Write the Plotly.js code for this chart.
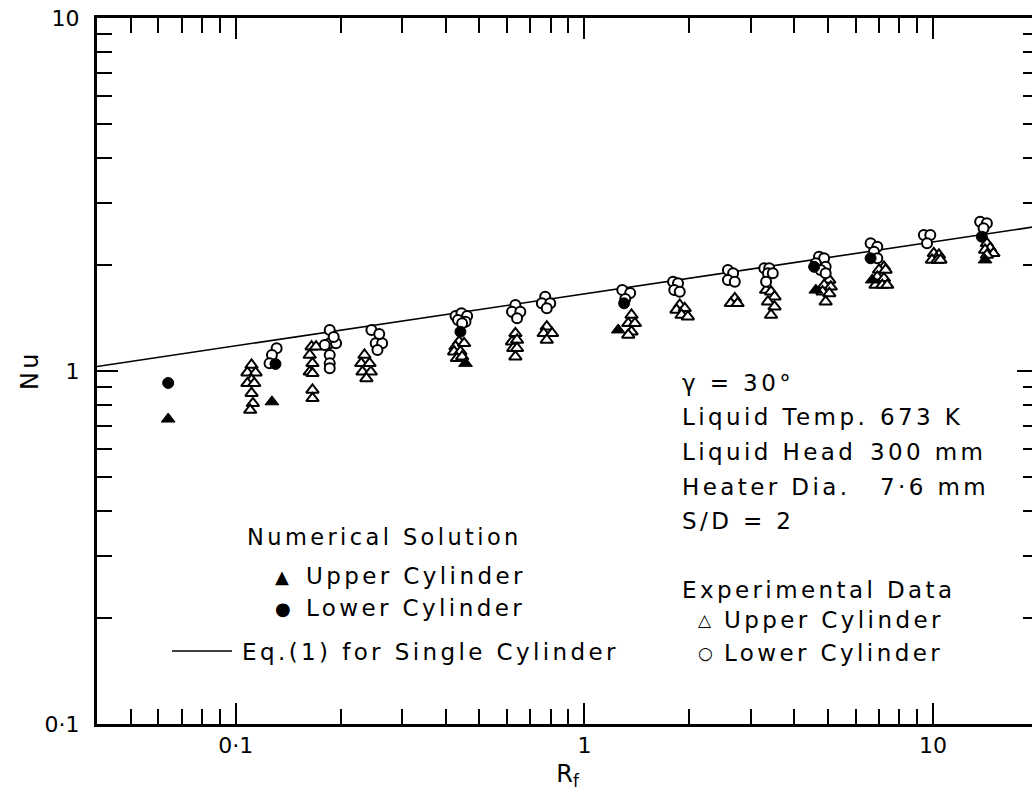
<!DOCTYPE html>
<html><head><meta charset="utf-8">
<script src="https://cdn.plot.ly/plotly-3.0.1.min.js"></script>
<style>
html,body{margin:0;padding:0;overflow:hidden;background:#fff}
#chart{width:1040px;height:797px}
.annotation-text{letter-spacing:3.4px}
</style></head><body><div id="chart"></div><script>
// ---------- data ----------
const expUpperX = [0.111,0.108,0.114,0.111,0.108,0.113,0.111,0.112,0.110,
  0.165,0.170,0.163,0.166,0.163,0.166,0.166,0.166,
  0.234,0.229,0.242,0.231,0.244,0.237,
  0.437,0.427,0.452,0.423,0.441,0.431,0.446,
  0.634,0.620,0.641,0.625,0.641,0.634,
  0.780,0.764,0.808,0.780,
  1.365,1.336,1.396,1.365,1.336,
  1.877,1.837,1.94,1.90,1.98,
  2.70,2.63,2.75,
  3.32,3.43,3.51,3.36,3.51,3.43,
  5.04,4.87,5.09,4.82,5.04,4.92,
  7.23,7.00,7.31,6.92,7.23,6.84,7.15,7.39,
  10.05,10.4,9.93,10.3,10.5,
  14.27,14.58,14.1,14.9,14.27];
const expUpperY = [1.040,0.989,0.989,0.943,0.923,0.923,0.865,0.810,0.775,
  1.172,1.172,1.110,1.051,0.995,0.985,0.884,0.837,
  1.110,1.051,1.051,0.995,0.995,0.953,
  1.211,1.172,1.198,1.134,1.134,1.086,1.098,
  1.279,1.211,1.224,1.160,1.160,1.098,
  1.335,1.279,1.279,1.224,
  1.441,1.365,1.365,1.292,1.265,
  1.538,1.489,1.505,1.441,1.425,
  1.606,1.555,1.555,
  1.695,1.677,1.624,1.571,1.521,1.441,
  1.811,1.752,1.732,1.677,1.659,1.571,
  1.973,1.933,1.933,1.849,1.830,1.752,1.752,1.752,
  2.154,2.131,2.064,2.064,2.064,
  2.300,2.227,2.202,2.154,2.131];
const expLowerX = [0.131,0.127,0.125,
  0.186,0.180,0.194,0.186,0.186,0.186,0.186,0.191,
  0.252,0.263,0.255,0.245,0.258,
  0.427,0.444,0.461,0.434,0.456,0.446,
  0.634,0.620,0.655,0.641,
  0.772,0.755,0.798,0.780,
  1.284,1.353,1.31,
  1.796,1.856,1.81,1.877,
  2.58,2.67,2.58,2.70,
  3.28,3.39,3.36,3.47,3.32,
  4.71,4.87,4.61,4.92,4.76,4.92,
  6.62,6.92,6.77,6.92,
  9.41,9.82,9.61,
  13.65,14.27,13.96];
const expLowerY = [1.160,1.110,1.051,
  1.198,1.185,1.198,1.110,1.051,1.018,1.307,1.248,
  1.198,1.198,1.147,1.307,1.273,
  1.431,1.457,1.431,1.395,1.379,1.365,
  1.538,1.472,1.472,1.410,
  1.624,1.555,1.555,1.505,
  1.695,1.663,1.600,
  1.791,1.772,1.695,1.677,
  1.933,1.891,1.811,1.791,
  1.955,1.955,1.891,1.891,1.791,
  2.108,2.086,2.018,1.973,1.933,1.891,
  2.300,2.250,2.177,2.086,
  2.428,2.428,2.300,
  2.648,2.620,2.536];
const numUpperX = [0.064,0.127,0.456,1.25,4.61,6.69,14.1];
const numUpperY = [0.731,0.818,1.051,1.307,1.695,1.811,2.064];
const numLowerX = [0.064,0.130,0.441,1.30,4.56,6.62,13.8];
const numLowerY = [0.925,1.047,1.292,1.555,1.973,2.086,2.401];
const eqX = [0.04, 20];
const eqY = [1.03, 2.57];

const xTickVals = [0.1, 1, 10];
const xTickText = ['0·1', '1', '10'];
const yTickVals = [0.1, 1, 10];
const yTickText = ['0·1', '1', '10'];
const xMinorVals = [0.05,0.06,0.07,0.08,0.09,0.2,0.3,0.4,0.5,0.6,0.7,0.8,0.9,2,3,4,5,6,7,8,9,20];
const yMinorVals = [0.2,0.3,0.4,0.5,0.6,0.7,0.8,0.9,2,3,4,5,6,7,8,9];

// ---------- layout helpers ----------
const W = 1040, H = 797;
const L = 97, R = 2, T = 18, B = 73;
const pw = W - L - R, ph = H - T - B;
const px = x => (x - L) / pw;
const py = y => (H - B - y) / ph;
const FONT = 'DejaVu Sans';

function note(text, x, y, size, extra) {
  return Object.assign({text: text, xref: 'paper', yref: 'paper', x: px(x), y: py(y),
    xanchor: 'left', yanchor: 'middle', showarrow: false,
    font: {family: FONT, size: size || 23, color: '#000'}}, extra || {});
}

const traces = [
  {x: eqX, y: eqY, mode: 'lines', line: {color: '#000', width: 1.6}, hoverinfo: 'skip'},
  {x: expUpperX, y: expUpperY, mode: 'markers',
   marker: {symbol: 'triangle-up', size: 11, color: '#fff', line: {color: '#000', width: 2}}},
  {x: expLowerX, y: expLowerY, mode: 'markers',
   marker: {symbol: 'circle', size: 10, color: '#fff', line: {color: '#000', width: 2}}},
  {x: numUpperX, y: numUpperY, mode: 'markers',
   marker: {symbol: 'triangle-up', size: 12, color: '#000', line: {color: '#000', width: 1}}},
  {x: numLowerX, y: numLowerY, mode: 'markers',
   marker: {symbol: 'circle', size: 11, color: '#000', line: {color: '#000', width: 1}}}
];

const axisCommon = {
  type: 'log', showgrid: false, zeroline: false, showline: true, linecolor: '#000', linewidth: 3,
  mirror: 'allticks', ticks: 'inside', ticklen: 21, tickwidth: 2, tickcolor: '#000',
  tickmode: 'array', tickfont: {family: FONT, size: 22, color: '#000'},
  minor: {tickmode: 'array', ticks: 'inside', ticklen: 15, tickwidth: 2, tickcolor: '#000', showgrid: false}
};

const layout = {
  width: W, height: H, showlegend: false,
  paper_bgcolor: '#fff', plot_bgcolor: '#fff',
  margin: {l: L, r: R, t: T, b: B},
  xaxis: Object.assign({}, axisCommon, {
    range: [Math.log10(0.04), Math.log10(20)],
    tickvals: xTickVals, ticktext: xTickText,
    minor: Object.assign({}, axisCommon.minor, {tickvals: xMinorVals}),
    title: {text: 'R<sub>f</sub>', font: {family: FONT, size: 24, color: '#000'}, standoff: 8}
  }),
  yaxis: Object.assign({}, axisCommon, {
    range: [-1, 1],
    tickvals: yTickVals, ticktext: yTickText,
    minor: Object.assign({}, axisCommon.minor, {tickvals: yMinorVals}),
    ticklabelstandoff: 10
  }),
  annotations: [
    {text: 'Nu', xref: 'paper', yref: 'paper', x: px(30), y: py(370), xanchor: 'center', yanchor: 'middle',
     textangle: -90, showarrow: false, font: {family: FONT, size: 24, color: '#000'}},
    note('γ = 30°', 680, 383),
    note('Liquid Temp.', 680, 417),
    note('673 K', 878, 417),
    note('Liquid Head', 680, 452),
    note('300 mm', 868, 452),
    note('Heater Dia.', 680, 487),
    note('7·6 mm', 878, 487),
    note('S/D = 2', 680, 521),
    note('Experimental Data', 680, 590),
    note('△', 696, 620, 17),
    note('Upper Cylinder', 722, 620),
    note('○', 696, 653, 17),
    note('Lower Cylinder', 722, 653),
    note('Numerical Solution', 245, 537, 22.5),
    note('▲', 273, 576, 18),
    note('Upper Cylinder', 304, 576),
    note('●', 273, 608, 18),
    note('Lower Cylinder', 304, 608),
    note('Eq.(1) for Single Cylinder', 240, 652)
  ],
  shapes: [
    {type: 'line', xref: 'paper', yref: 'paper', x0: px(172), x1: px(232), y0: py(651), y1: py(651),
     line: {color: '#000', width: 1.6}}
  ]
};

Plotly.newPlot('chart', traces, layout, {displayModeBar: false, staticPlot: true});
</script></body></html>
